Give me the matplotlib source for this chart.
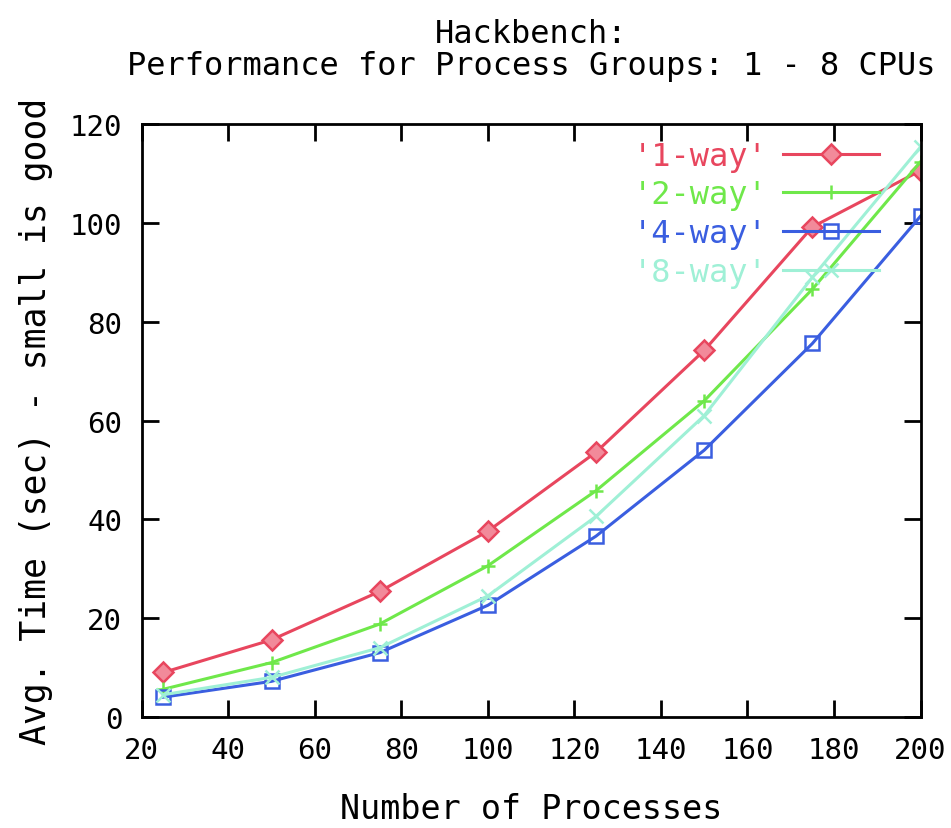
import matplotlib
matplotlib.use("Agg")
import matplotlib.pyplot as plt

processes = [25, 50, 75, 100, 125, 150, 175, 200]
one_way = [9.0, 15.6, 25.4, 37.6, 53.6, 74.2, 99.2, 110.6]
two_way = [5.6, 11.0, 18.8, 30.6, 45.8, 64.0, 86.6, 112.4]
four_way = [4.0, 7.2, 13.0, 22.6, 36.6, 54.0, 75.6, 101.4]
eight_way = [4.5, 8.0, 14.0, 24.5, 40.6, 61.0, 89.0, 115.4]

series = [
    ("'1-way'", one_way, "#e8465e", "D", "#f28a9a"),
    ("'2-way'", two_way, "#6fe84a", "+", "#6fe84a"),
    ("'4-way'", four_way, "#3a5ee0", "s", "none"),
    ("'8-way'", eight_way, "#9ff0d6", "x", "#9ff0d6"),
]

plt.rcParams["font.family"] = ["DejaVu Sans Mono"]

fig = plt.figure(figsize=(9.51, 8.29), dpi=100)
ax = fig.add_axes([0.149, 0.134, 0.819, 0.715])

for label, vals, color, marker, face in series:
    ax.plot(processes, vals, color=color, linewidth=2.2, marker=marker,
            markersize=10, markerfacecolor=face, markeredgecolor=color,
            markeredgewidth=1.8, label=label)

ax.set_xlim(20, 200)
ax.set_ylim(0, 120)
ax.set_xticks(range(20, 201, 20))
ax.set_yticks(range(0, 121, 20))
ax.tick_params(direction="in", length=12, width=2, top=True, right=True,
               labelsize=21, pad=14)
for sp in ax.spines.values():
    sp.set_linewidth(2)

ax.set_title("Hackbench:\nPerformance for Process Groups: 1 - 8 CPUs",
             fontsize=23, pad=36, linespacing=1.05)
ax.set_xlabel("Number of Processes", fontsize=24, labelpad=20)
ax.set_ylabel("Avg. Time (sec) - small is good", fontsize=25, labelpad=12)

leg = ax.legend(loc="upper right", frameon=False, markerfirst=False,
                fontsize=23, handlelength=3.0, handletextpad=0.5,
                labelspacing=0.24, borderpad=0, borderaxespad=0,
                bbox_to_anchor=(0.947, 0.972))
for text, (_, _, color, _, _) in zip(leg.get_texts(), series):
    text.set_color(color)

fig.savefig("out.png", dpi=100)
